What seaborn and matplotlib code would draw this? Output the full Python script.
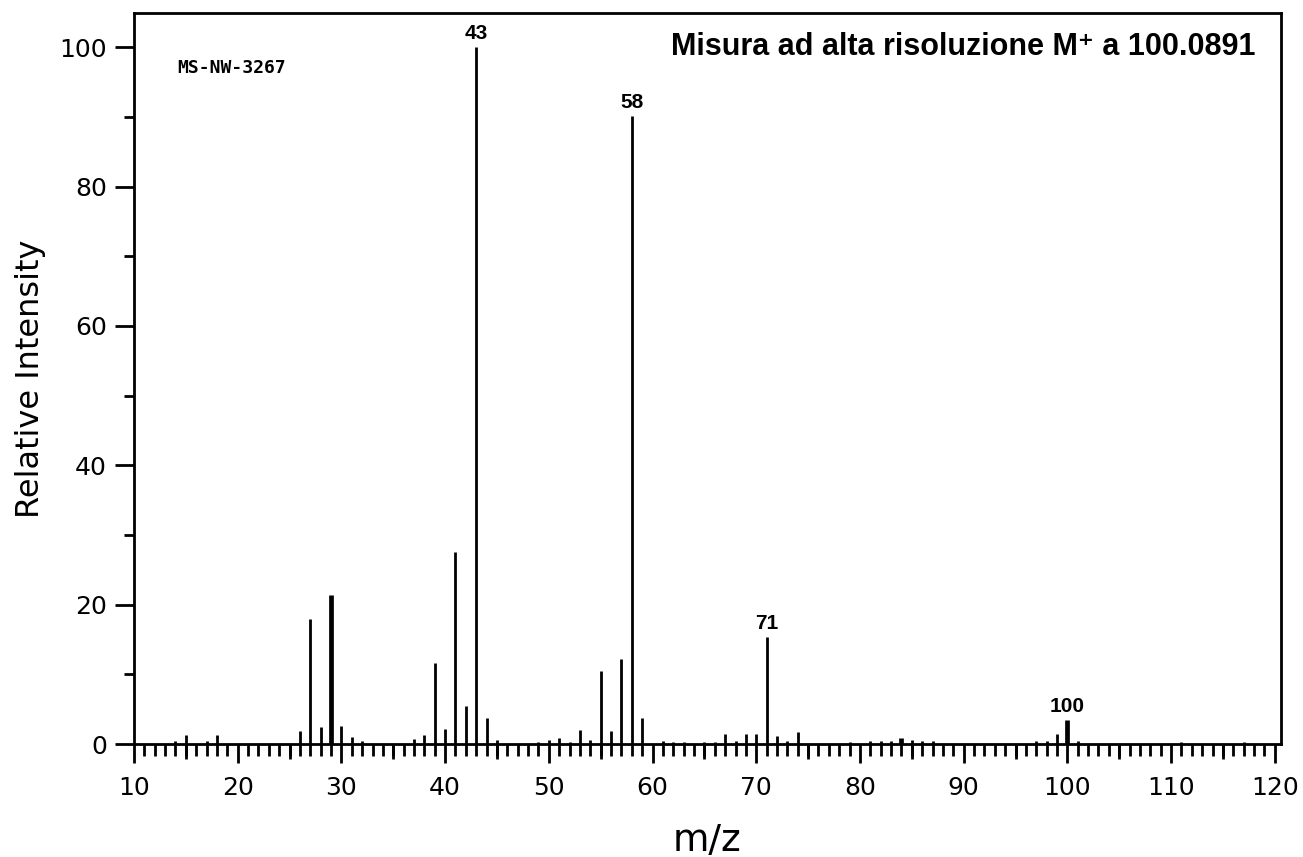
import seaborn as sns
import matplotlib.pyplot as plt
from matplotlib.ticker import MultipleLocator, FixedLocator, NullFormatter
import pandas as pd

# spettro di massa
mz = [14, 15, 17, 18, 26, 27, 28, 29, 30, 31, 32, 37, 38, 39, 40, 41, 42, 43, 44, 45,
      49, 50, 51, 52, 53, 54, 55, 56, 57, 58, 59, 61, 62, 63, 65, 66, 67, 68, 69, 70,
      71, 72, 73, 74, 79, 81, 82, 83, 84, 85, 86, 87, 97, 98, 99, 100, 101, 111, 117]
intensity = [0.4, 1.3, 0.4, 1.3, 1.8, 17.9, 2.4, 21.4, 2.6, 1.0, 0.4, 0.7, 1.3, 11.6, 2.1, 27.5, 5.4, 100, 3.7, 0.6,
             0.3, 0.6, 0.9, 0.3, 2.0, 0.6, 10.5, 1.8, 12.2, 90.1, 3.7, 0.4, 0.3, 0.3, 0.3, 0.3, 1.4, 0.4, 1.4, 1.4,
             15.3, 1.2, 0.4, 1.7, 0.3, 0.4, 0.5, 0.4, 0.9, 0.6, 0.4, 0.4, 0.5, 0.5, 1.4, 3.4, 0.4, 0.3, 0.3]
peak_labels = [43, 58, 71, 100]
double_peaks = [29, 84, 100]  # linee piu spesse

sample_id = "MS-NW-3267"
title = "Misura ad alta risoluzione M\u207a a 100.0891"

spec = pd.DataFrame({"mz": mz, "int": intensity})

sns.set_style("ticks", {"axes.edgecolor": "black", "text.color": "black",
                        "xtick.color": "black", "ytick.color": "black",
                        "axes.labelcolor": "black"})
plt.rcParams['font.family'] = ['DejaVu Sans']

fig = plt.figure(figsize=(13.03, 8.57), dpi=100)
ax = fig.add_axes([134 / 1303, 1 - 744 / 857, (1281 - 134) / 1303, (744 - 13) / 857])

thin = spec[~spec["mz"].isin(double_peaks)]
fat = spec[spec["mz"].isin(double_peaks)]
ax.vlines(thin["mz"], 0, thin["int"], color="black", lw=2)
ax.vlines(fat["mz"], 0, fat["int"], color="black", lw=3.4)

for m in peak_labels:
    h = spec.loc[spec["mz"] == m, "int"].iloc[0]
    ax.annotate(str(m), (m, h), xytext=(0, 3), textcoords="offset points",
                ha="center", va="bottom", fontsize=15, fontweight="bold",
                family="Liberation Sans")

ax.set_xlim(10, 120.6)
ax.set_ylim(0, 104.9)

ax.xaxis.set_major_locator(MultipleLocator(10))
ax.xaxis.set_minor_locator(MultipleLocator(1))
ax.yaxis.set_major_locator(MultipleLocator(20))
ax.yaxis.set_minor_locator(MultipleLocator(10))
ax.tick_params(axis="x", which="major", length=14, width=2, labelsize=18, pad=9)
ax.tick_params(axis="x", which="minor", length=8.5, width=2)
ax.tick_params(axis="y", which="major", length=13.5, width=2, labelsize=18, pad=6)
ax.tick_params(axis="y", which="minor", length=7, width=2)

# tacche intermedie ogni 5
sec = ax.secondary_xaxis("bottom")
sec.xaxis.set_major_locator(FixedLocator(list(range(15, 120, 10))))
sec.xaxis.set_major_formatter(NullFormatter())
sec.tick_params(length=11, width=2, color="black")
sec.spines["bottom"].set_visible(False)

for s in ax.spines.values():
    s.set_linewidth(2)
    s.set_visible(True)

ax.set_xlabel("m/z", fontsize=27)
ax.set_ylabel("Relative Intensity", fontsize=23)
ax.xaxis.set_label_coords(0.5, -0.108)
ax.yaxis.set_label_coords(-0.077, 0.5)

ax.text(0.038, 0.925, sample_id, transform=ax.transAxes, fontsize=13,
        family="DejaVu Sans Mono", fontweight="bold", va="center", ha="left")
ax.text(0.978, 0.954, title, transform=ax.transAxes, fontsize=22,
        fontweight="bold", family=["Liberation Sans", "DejaVu Sans"],
        va="center", ha="right")

fig.savefig("out.png", dpi=100)
